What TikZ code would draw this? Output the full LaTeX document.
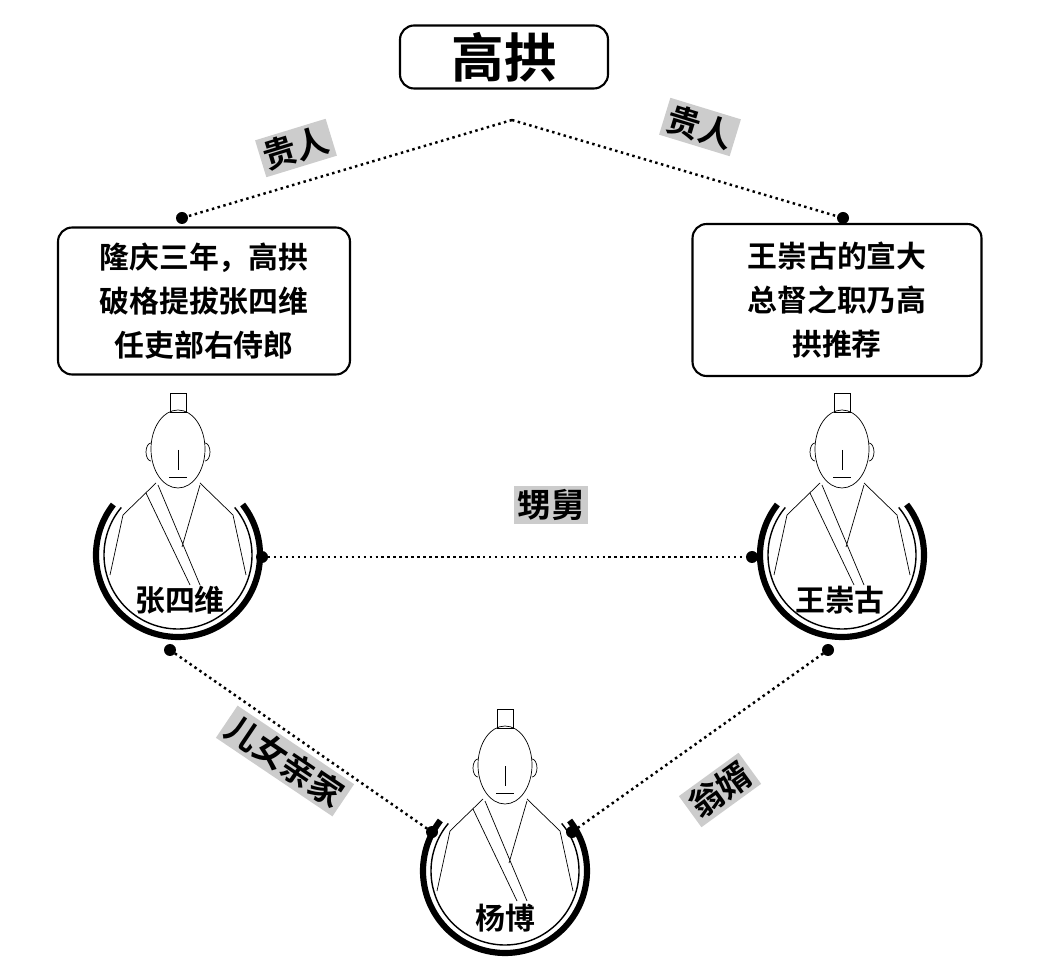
\documentclass[tikz,border=0pt]{standalone}
\usepackage{fontspec}
\setmainfont{Noto Sans CJK SC}[BoldFont={Noto Sans CJK SC Bold}]
\usetikzlibrary{arrows,shapes}
\usetikzlibrary{arrows.meta}
\tikzstyle{person}=[rectangle, draw, very thick, rounded corners=8pt, align=center, font=\bfseries\fontsize{17}{25}\selectfont]
\tikzstyle{tag}=[fill=gray!40, inner sep=2pt, font=\bfseries\fontsize{19}{20}\selectfont]
\tikzstyle{link}=[dotted, line width=1.4pt]
\tikzstyle{who}=[font=\bfseries\fontsize{17}{20}\selectfont]
\newcommand{\portrait}[1]{%
  \begin{scope}[shift={(#1)}]
    \draw[line width=3.5pt] (38:82) arc (38:-218:82);
    \draw[line width=0.8pt] (40:74) arc (40:-220:74);
    \draw[thin] (-8,143) rectangle (8,162);
    \draw[thin] (0,106) ellipse (27 and 39);
    \draw[thin] (-27,112) arc (90:270:5 and 9) (27,112) arc (90:-90:5 and 9);
    \draw[thin] (0,105) -- (0,85) (-9,78) -- (9,78);
    \draw[thin] (-22,72) -- (-55,40) -- (-68,-20) (22,72) -- (55,40) -- (68,-20);
    \draw[thin] (-20,70) -- (22,-30) (-32,62) -- (12,-30) (22,70) -- (4,8);
  \end{scope}}
\begin{document}
\begin{tikzpicture}[x=0.02cm, y=0.02cm, thick]
      %
      \path[use as bounding box] (0,0) rectangle (1038,971);
      %
      % top: Gao Gong
      %
      \node[person, minimum width=4.16cm, minimum height=1.26cm, font=\bfseries\fontsize{30}{30}\selectfont] (gao) at (504,914) {高拱};
      \coordinate (apex) at (512,851);
      %
      % boxes under the patron
      %
      \node[person, minimum width=5.84cm, minimum height=2.94cm] (noteL) at (204,670) {隆庆三年，高拱\\破格提拔张四维\\任吏部右侍郎};
      \node[person, minimum width=5.78cm, minimum height=3.04cm] (noteR) at (837,671) {王崇古的宣大\\总督之职乃高\\拱推荐};
      \coordinate (topL) at (182,753);
      \coordinate (topR) at (843,753);
      \draw[link] (apex) -- (topL);
      \draw[link] (apex) -- (topR);
      \fill (topL) circle (6);
      \fill (topR) circle (6);
      \node[tag, rotate=17] (guiL) at (296,823) {贵人};
      \node[tag, rotate=-17] (guiR) at (700,844) {贵人};
      %
      % the three men
      %
      \portrait{178,416}
      \portrait{842,416}
      \portrait{505,100}
      \node[who] (zhang) at (180,371) {张四维};
      \node[who] (wang) at (840,371) {王崇古};
      \node[who] (yang) at (505,53) {杨博};
      %
      % links between them
      %
      \coordinate (zhangE) at (262,414);
      \coordinate (wangW) at (752,414);
      \coordinate (zhangS) at (170,321);
      \coordinate (wangS) at (828,321);
      \coordinate (yangW) at (432,139);
      \coordinate (yangE) at (572,139);
      \draw[link] (zhangE) -- (wangW);
      \draw[link] (zhangS) -- (yangW);
      \draw[link] (wangS) -- (yangE);
      \foreach \p in {zhangE, wangW, zhangS, wangS, yangW, yangE}
        \fill (\p) circle (6);
      \node[tag] (shengjiu) at (551,466) {甥舅};
      \node[tag, rotate=-34] (qinjia) at (285,210) {儿女亲家};
      \node[tag, rotate=36] (wengxu) at (720,181) {翁婿};
      %
\end{tikzpicture}
\end{document}
